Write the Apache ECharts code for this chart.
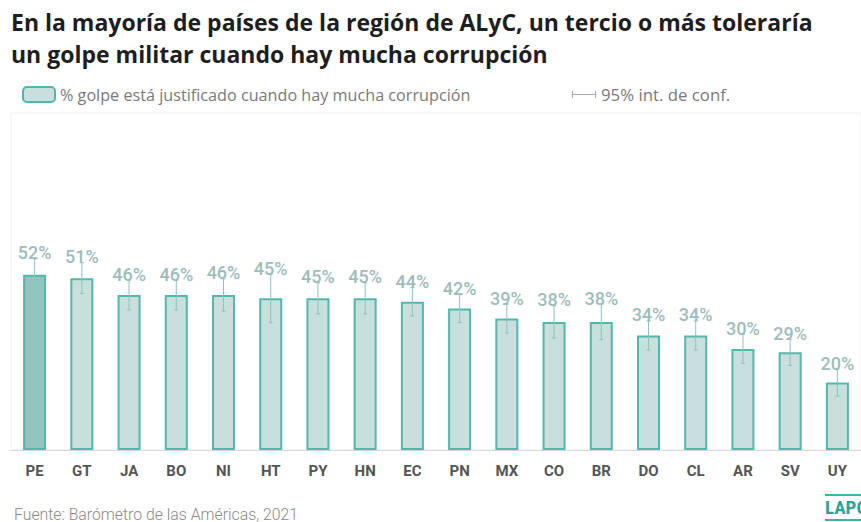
<!DOCTYPE html>
<html><head><meta charset="utf-8">
<script src="https://cdn.jsdelivr.net/npm/echarts@6/dist/echarts.min.js"></script>
<style>html,body{margin:0;padding:0;background:#fff}#c{width:861px;height:522px}</style>
</head><body><div id="c"></div>
<script>
const categories = ['PE','GT','JA','BO','NI','HT','PY','HN','EC','PN','MX','CO','BR','DO','CL','AR','SV','UY'];
const values = [52,51,46,46,46,45,45,45,44,42,39,38,38,34,34,30,29,20];
const ciLow  = [47.3,46.4,41.6,41.6,41.2,37.8,40.4,40.4,39.8,37.8,34.7,33.2,32.8,29.7,29.7,25.7,25.1,16.0];
const ciHigh = [56.7,55.6,50.4,50.4,50.8,52.2,49.6,49.6,48.2,46.2,43.3,42.8,43.2,38.3,38.3,34.3,32.9,24.0];
const highlight = 'PE';
const title1 = 'En la mayoría de países de la región de ALyC, un tercio o más toleraría';
const title2 = 'un golpe militar cuando hay mucha corrupción';
const barName = '% golpe está justificado cuando hay mucha corrupción';
const ciName = '95% int. de conf.';
const source = 'Fuente: Barómetro de las Américas, 2021';

const chart = echarts.init(document.getElementById('c'), null, {renderer: 'svg'});
const teal = '#52b8ab';
chart.setOption({
  animation: false,
  title: [
    {text: title1 + '\n' + title2, left: 6, top: 1,
     textStyle: {fontFamily: 'Open Sans', fontWeight: 700, fontSize: 23, color: '#1e1e1e', lineHeight: 32}},
    {text: source, left: 9, top: 501,
     textStyle: {fontFamily: 'Roboto', fontWeight: 300, fontSize: 15.8, color: '#8a8a8a'}}
  ],
  legend: [
    {data: [barName], left: 17, top: 81, itemWidth: 32, itemHeight: 15, itemGap: 6,
     textStyle: {fontFamily: 'Open Sans', fontSize: 16.2, color: '#7a7a7a'}},
    {data: [{name: ciName, icon: 'path://M0,0h1v7h-1z M0,3h24v1h-24z M23,0h1v7h-1z'}],
     left: 567, top: 81, itemWidth: 24, itemHeight: 7, itemGap: 6,
     itemStyle: {color: '#aaaaaa'},
     textStyle: {fontFamily: 'Open Sans', fontSize: 16.8, color: '#7a7a7a'}}
  ],
  grid: {left: 11, top: 113, width: 856, height: 337, show: true, borderColor: '#efefef', borderWidth: 1, containLabel: false},
  xAxis: {type: 'category', data: categories,
    axisLine: {lineStyle: {color: '#d8d8d8'}}, axisTick: {show: false},
    axisLabel: {margin: 13, fontFamily: 'Roboto', fontWeight: 700, fontSize: 15, color: '#555'}},
  yAxis: {type: 'value', min: 0, max: 100, show: false, splitLine: {show: false}},
  series: [
    {name: barName, type: 'bar', barWidth: 23,
     data: values.map((v, i) => ({value: v, itemStyle: categories[i] === highlight ? {color: '#94c4c0'} : {}})),
     itemStyle: {color: '#c8dfdc', borderColor: teal, borderWidth: 2}},
    {name: ciName, type: 'custom', z: 5,
     itemStyle: {color: '#aaaaaa'},
     data: categories.map((c, i) => [i, ciLow[i], ciHigh[i], values[i]]),
     renderItem: function (params, api) {
       const x = api.coord([api.value(0), 0])[0];
       const lo = api.coord([api.value(0), api.value(1)])[1];
       const hi = api.coord([api.value(0), api.value(2)])[1];
       const s = {stroke: '#88c6bf', lineWidth: 1};
       return {type: 'group', children: [
         {type: 'line', shape: {x1: x, y1: hi, x2: x, y2: lo}, style: s},
         {type: 'line', shape: {x1: x - 2, y1: hi, x2: x + 2, y2: hi}, style: s},
         {type: 'line', shape: {x1: x - 2, y1: lo, x2: x + 2, y2: lo}, style: s},
         {type: 'text', x: x, y: hi + 3, style: {text: api.value(3) + '%', align: 'center', verticalAlign: 'bottom',
           font: '500 18px Roboto', fill: '#9dbdbc'}}
       ]};
     }}
  ],
  graphic: [
    {type: 'group', left: 825, top: 494, children: [
      {type: 'rect', shape: {x: 0, y: 0, width: 40, height: 2}, style: {fill: '#3cb5a8'}},
      {type: 'text', x: 0, y: 4, style: {text: 'LAPOP', font: '700 19px "Liberation Sans Narrow", "Roboto Condensed", Roboto', fill: '#2aa597'}},
      {type: 'rect', shape: {x: 0, y: 25, width: 40, height: 2}, style: {fill: '#3cb5a8'}}
    ]}
  ]
});
</script></body></html>
